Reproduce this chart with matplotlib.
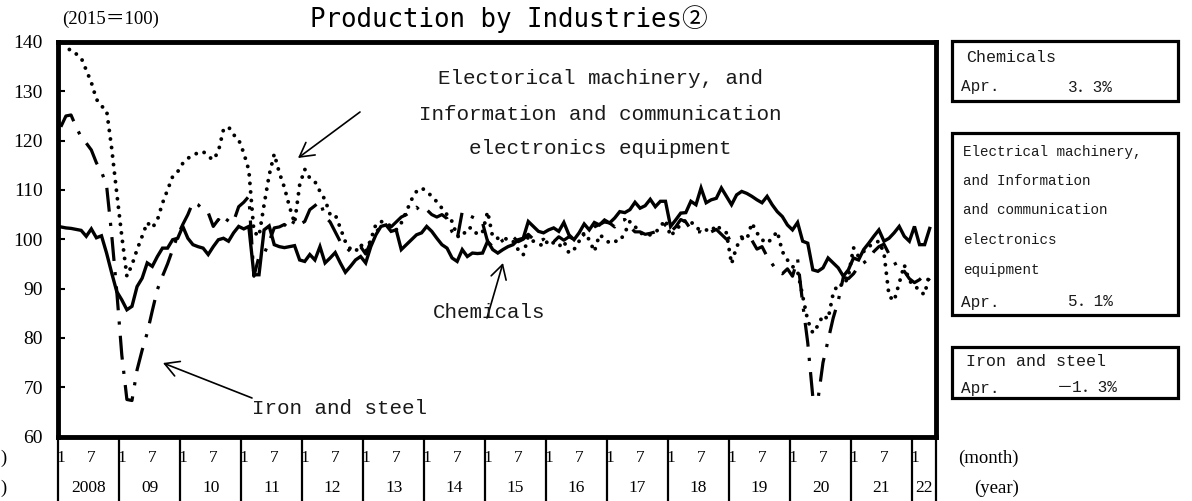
import matplotlib
matplotlib.use('Agg')
import matplotlib.pyplot as plt
from matplotlib.patches import Rectangle, FancyArrowPatch
import numpy as np

# ---------------- data (monthly, Jan 2008 - Apr 2022) ----------------
year_labels = ['2008', '09', '10', '11', '12', '13', '14', '15', '16', '17',
               '18', '19', '20', '21', '22']
month_ticks = ['1', '7']
y_ticks = [60, 70, 80, 90, 100, 110, 120, 130, 140]

chemicals = [
    102.5, 102.3, 102.2, 102.0, 101.8, 100.6, 102.1, 100.3, 100.7, 97.2, 93.2, 89.4,
    87.7, 85.7, 86.4, 90.4, 92.1, 95.2, 94.5, 96.5, 98.2, 98.2, 99.9, 100.2,
    102.6, 100.2, 98.9, 98.5, 98.2, 96.9, 98.5, 99.9, 100.2, 99.6, 101.3, 102.6,
    102.1, 102.6, 92.8, 92.8, 101.9, 102.7, 98.9, 98.5, 98.3, 98.5, 98.7, 95.8,
    95.5, 96.9, 95.8, 98.5, 95.2, 96.2, 97.3, 95.2, 93.3, 94.5, 95.8, 96.5,
    95.2, 98.5, 100.9, 102.6, 102.9, 101.6, 101.9, 97.9, 98.9, 99.9, 100.9, 101.3,
    102.6, 101.6, 100.2, 98.9, 98.2, 96.2, 95.5, 97.9, 96.5, 97.2, 97.1, 97.2,
    99.6, 97.9, 97.2, 97.9, 98.5, 98.9, 99.9, 100.2, 103.6, 102.6, 101.6, 101.3,
    101.9, 102.3, 101.6, 103.4, 100.9, 99.9, 101.3, 103.1, 101.9, 103.4, 102.9, 103.9,
    103.3, 104.3, 105.6, 105.4, 106.0, 107.5, 106.3, 106.8, 108.1, 106.6, 107.7, 107.7,
    102.6, 103.9, 105.3, 105.4, 107.7, 107.0, 110.4, 107.4, 108.0, 108.3, 110.4, 108.7,
    107.0, 109.0, 109.7, 109.3, 108.7, 108.0, 107.4, 108.7, 107.0, 105.6, 104.6, 102.9,
    101.9, 103.4, 99.6, 99.2, 93.8, 93.5, 94.2, 96.2, 95.2, 94.2, 92.5, 93.8,
    96.2, 95.8, 97.9, 99.2, 100.6, 101.9, 99.6, 100.2, 101.3, 102.6, 100.6, 99.6,
    102.6, 98.9, 98.9, 102.2,
]

electrical = [
    141.5, 139.5, 138.0, 137.6, 136.8, 134.3, 131.8, 128.4, 127.0, 126.2, 118.5, 109.4,
    100.6, 92.5, 94.8, 97.9, 100.6, 103.4, 102.3, 103.9, 107.3, 110.0, 112.7, 113.7,
    115.4, 116.4, 117.1, 117.5, 117.8, 116.8, 116.1, 117.8, 122.2, 122.8, 121.2, 120.2,
    117.5, 114.0, 101.5, 100.6, 107.0, 113.0, 117.3, 113.5, 110.5, 106.6, 103.3, 111.0,
    114.2, 112.4, 111.7, 109.7, 108.0, 105.0, 105.0, 102.3, 99.5, 98.0, 97.5, 99.0,
    97.5, 99.9, 103.0, 103.6, 103.3, 102.6, 101.9, 103.3, 105.6, 108.0, 109.7, 110.4,
    109.7, 108.7, 107.6, 106.3, 105.0, 103.6, 100.6, 100.5, 102.3, 102.3, 100.9, 101.5,
    105.6, 100.4, 100.2, 99.9, 100.2, 99.6, 97.9, 96.8, 100.6, 99.6, 99.2, 98.5,
    99.9, 99.2, 98.5, 99.6, 97.2, 97.9, 99.6, 101.3, 99.9, 97.5, 100.9, 100.2,
    99.2, 99.6, 99.6, 101.3, 103.6, 102.6, 101.3, 100.9, 100.9, 101.3, 102.6, 103.9,
    100.6, 101.9, 102.9, 103.9, 103.6, 102.3, 101.9, 101.9, 101.6, 102.9, 101.9, 101.3,
    95.0, 98.5, 100.2, 99.9, 103.3, 101.3, 99.9, 99.2, 100.2, 101.6, 97.5, 95.8,
    94.5, 93.5, 88.5, 83.5, 81.0, 82.5, 84.6, 83.8, 89.0, 91.0, 90.5, 92.5,
    98.3, 96.5, 97.5, 98.5, 99.2, 99.6, 97.2, 88.5, 87.5, 91.1, 94.8, 91.5,
    90.8, 89.4, 88.8, 93.3,
]

iron_steel = [
    122.8, 125.0, 125.2, 122.8, 120.7, 119.5, 118.1, 115.5, 113.7, 110.9, 101.0, 89.5,
    76.5, 67.5, 67.3, 73.5, 77.5, 81.0, 85.5, 89.8, 92.5, 95.0, 97.9, 100.8,
    103.0, 105.0, 107.5, 107.0, 106.0, 105.4, 102.6, 104.0, 102.8, 104.2, 103.6, 106.6,
    107.5, 108.7, 92.5, 96.5, 97.0, 99.5, 102.3, 102.5, 103.0, 102.0, 103.9, 103.0,
    103.6, 106.0, 106.8, 107.7, 104.6, 103.5, 101.5, 99.5, 98.5, 97.5, 98.0, 98.5,
    97.0, 99.5, 101.5, 102.5, 103.0, 102.5, 103.5, 104.5, 105.0, 105.8, 106.5, 105.5,
    106.0, 105.0, 104.5, 105.0, 104.2, 101.5, 100.0, 105.6, 105.0, 104.5, 104.0, 103.3,
    99.5, 98.5, 99.0, 99.8, 100.2, 100.5, 99.5, 100.0, 101.0, 100.0, 99.5, 100.0,
    99.0, 99.5, 100.5, 99.8, 100.5, 100.0, 100.0, 101.0, 101.5, 102.5, 103.0, 103.5,
    103.3, 102.5, 103.8, 104.0, 102.5, 101.5, 101.5, 101.0, 101.2, 101.5, 102.0, 103.0,
    101.5, 102.5, 104.0, 103.5, 102.0, 101.5, 101.5, 101.0, 101.5, 102.0, 101.0, 100.0,
    100.5, 100.0, 100.5, 99.5, 99.8, 98.0, 98.5, 96.5, 95.0, 93.5, 93.0, 94.0,
    92.5, 96.0, 87.0, 79.0, 68.0, 67.4, 75.0, 79.5, 84.0, 87.5, 92.3, 92.0,
    93.0, 94.5, 95.2, 96.0, 97.5, 98.5, 99.0, 97.0, 95.5, 93.5, 93.5, 92.0,
    91.2, 91.8, 92.8, 91.6,
]

box_titles = ['Chemicals',
              'Electrical machinery,\nand Information\nand communication\nelectronics\nequipment',
              'Iron and steel']
box_values = ['3．3%', '5．1%', '－1．3%']
box_month = 'Apr.'

# ---------------- figure ----------------
W, H = 1192, 501
fig = plt.figure(figsize=(W / 100, H / 100), dpi=100)


def fx(px):
    return px / W


def fy(py):
    return 1 - py / H


ax_left, ax_right, ax_top, ax_bot = 58.3, 936.3, 42.0, 436.5
ax = fig.add_axes([fx(ax_left), fy(ax_bot), fx(ax_right - ax_left), (ax_bot - ax_top) / H])

n_months = 172.8
x = np.arange(len(chemicals)) + 0.5

ax.plot(x, iron_steel, color='black', lw=2.3, linestyle=(0, (7.5, 3.5, 1.0, 3.5)),
        dash_capstyle='butt', zorder=3)
ax.plot(x, electrical, color='black', lw=2.8, linestyle=(0, (0.01, 2.2)),
        dash_capstyle='round', zorder=3)
ax.plot(x, chemicals, color='black', lw=2.4, solid_joinstyle='miter', zorder=4)

ax.set_xlim(0, n_months)
ax.set_ylim(60, 140)
ax.set_yticks(y_ticks)
ax.set_yticklabels([str(v) for v in y_ticks], family='Liberation Serif', fontsize=14)
ax.tick_params(axis='y', direction='in', length=5, width=1.5, pad=11)
ax.set_xticks([])
for s in ax.spines.values():
    s.set_linewidth(3.5)

# x axis: month labels, year labels, separators
xt = ax.get_xaxis_transform()
y_month = -(458 - ax_bot) / (ax_bot - ax_top)
y_year = -(488 - ax_bot) / (ax_bot - ax_top)
y_sep = -(H - ax_bot) / (ax_bot - ax_top)
for k, yl in enumerate(year_labels):
    start = 12 * k
    end = min(12 * (k + 1), n_months)
    ax.plot([start, start], [0, y_sep], transform=xt, color='black', lw=1.6,
            clip_on=False)
    ax.text(start + 0.5, y_month, month_ticks[0], transform=xt, ha='center', va='center',
            family='Liberation Serif', fontsize=12.5)
    if start + 6.5 < n_months:
        ax.text(start + 6.5, y_month, month_ticks[1], transform=xt, ha='center',
                va='center', family='Liberation Serif', fontsize=12.5)
    ax.text((start + end) / 2, y_year, yl, transform=xt, ha='center', va='center',
            family='Liberation Serif', fontsize=12.5)
ax.plot([n_months, n_months], [0, y_sep], transform=xt, color='black', lw=1.6,
        clip_on=False)

fig.text(fx(1019), fy(458), '(month)', ha='right', va='center',
         family='Liberation Serif', fontsize=13.5)
fig.text(fx(1019), fy(488), '(year)', ha='right', va='center',
         family='Liberation Serif', fontsize=13.5)
# the visible remainders of labels that sit at the far left edge
fig.text(fx(0.5), fy(458), ')', ha='left', va='center',
         family='Liberation Serif', fontsize=13.5)
fig.text(fx(0.5), fy(488), ')', ha='left', va='center',
         family='Liberation Serif', fontsize=13.5)

# title and unit
fig.text(fx(509), fy(19), 'Production by Industries②', ha='center', va='center',
         family=['DejaVu Sans Mono', 'Noto Sans CJK JP'], fontsize=18.5)
fig.text(fx(62), fy(19), '(2015＝100)', ha='left', va='center',
         family=['Liberation Serif', 'Noto Sans CJK JP'], fontsize=13.5)

# in-plot labels
mono = ['Liberation Mono', 'Noto Sans CJK JP']
tcol = '#1a1a1a'
for txt, yy in [('Electorical machinery, and', 78),
                ('Information and communication', 114),
                ('electronics equipment', 148)]:
    fig.text(fx(600), fy(yy), txt, ha='center', va='center', family=mono,
             fontsize=15, color=tcol)
fig.text(fx(489), fy(312), 'Chemicals', ha='center', va='center', family=mono,
         fontsize=15, color=tcol)
fig.text(fx(340), fy(409), 'Iron and steel', ha='center', va='center', family=mono,
         fontsize=15, color=tcol)

arrows = [((360, 112), (298, 158)), ((487, 318), (503, 263)), ((252, 398), (163, 363))]
for (x0, y0), (x1, y1) in arrows:
    fig.add_artist(FancyArrowPatch((fx(x0), fy(y0)), (fx(x1), fy(y1)),
                                   transform=fig.transFigure,
                                   arrowstyle='->,head_length=0.5,head_width=0.28',
                                   mutation_scale=20, lw=1.2, color='black',
                                   shrinkA=0, shrinkB=0))

# right-hand boxes
boxes = [(41, 101), (133, 315), (347, 398)]
for (top, bot) in boxes:
    fig.add_artist(Rectangle((fx(952), fy(bot)), fx(1178 - 952), (bot - top) / H,
                             transform=fig.transFigure, fill=False, lw=2.3,
                             ec='black'))

# box 1
fig.text(fx(966), fy(57), box_titles[0], ha='left', va='center', family=mono,
         fontsize=12, color=tcol)
fig.text(fx(961), fy(87), box_month, ha='left', va='center', family=mono,
         fontsize=11.5, color=tcol)
fig.text(fx(1113), fy(87), box_values[0], ha='right', va='center', family=mono,
         fontsize=11.5, color=tcol)
# box 2
for line, yy in zip(box_titles[1].split('\n'), [152, 181, 210, 240, 270]):
    fig.text(fx(963), fy(yy), line, ha='left', va='center', family=mono,
             fontsize=10.3, color=tcol)
fig.text(fx(961), fy(302), box_month, ha='left', va='center', family=mono,
         fontsize=11.5, color=tcol)
fig.text(fx(1113), fy(302), box_values[1], ha='right', va='center', family=mono,
         fontsize=11.5, color=tcol)
# box 3
fig.text(fx(966), fy(362), box_titles[2], ha='left', va='center', family=mono,
         fontsize=12, color=tcol)
fig.text(fx(961), fy(388), box_month, ha='left', va='center', family=mono,
         fontsize=11.5, color=tcol)
fig.text(fx(1118), fy(388), box_values[2], ha='right', va='center', family=mono,
         fontsize=11.5, color=tcol)

fig.savefig('out.png', dpi=100)
